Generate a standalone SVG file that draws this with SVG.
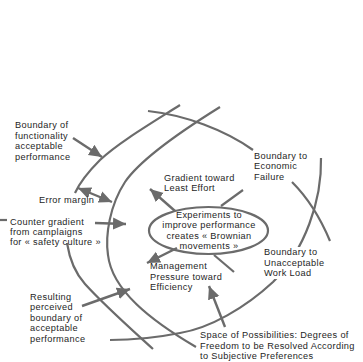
<svg xmlns="http://www.w3.org/2000/svg" width="363" height="362" viewBox="0 0 363 362">
<defs>
<style>
.c{fill:none;stroke:#6b6b6b;stroke-width:2.2;stroke-linecap:butt}
.a{fill:none;stroke:#6b6b6b;stroke-width:2.4}
.t{font-family:"Liberation Sans",Arial,sans-serif;font-size:9.2px;letter-spacing:0.35px;fill:#1e1e1e}
.m{text-anchor:middle}
.bg{fill:#fff}
</style>
<marker id="ah" markerUnits="userSpaceOnUse" markerWidth="16" markerHeight="14" refX="13" refY="6" orient="auto-start-reverse" viewBox="0 0 16 12">
<path d="M0,0 L13,6 L0,12 z" fill="#6b6b6b"/>
</marker>
</defs>
<rect width="363" height="362" fill="#fff"/>
<g id="boundaries">
<path class="c" d="M180,105 C150,124 118,143 100,160 C88,172 80,182 75,193"/>
<path class="c" d="M67,243 C70,262 76,274 85,284 C105,306 130,328 153,349"/>
<path class="c" d="M220,107 C175,135 140,160 125,182 C110,205 105,235 108,255 C112,290 150,320 196,347"/>
<path class="c" d="M148,111 C185,115 225,130 253,150"/>
<path class="c" d="M321,158 C322,200 305,250 273,282 C245,308 210,328 180,333 C150,339 130,340 110,340"/>
<path class="c" d="M292,182 Q315,205 330,241"/>
<path class="c" d="M221,206 L243,190"/>
<path class="c" d="M214,255 L234,272"/>
<path class="c" d="M0,220 L7,220"/>
</g>
<g id="connectors">
<path class="a" d="M73,138 L102,157" marker-end="url(#ah)"/>
<path class="a" d="M78,188 L112,202" marker-start="url(#ah)" marker-end="url(#ah)"/>
<path class="a" d="M95,223 L126,224" marker-end="url(#ah)"/>
<path class="a" d="M175,211 L150,189" marker-end="url(#ah)"/>
<path class="a" d="M177,248 L147,263" marker-end="url(#ah)"/>
<path class="a" d="M225,327 L209,286" marker-end="url(#ah)"/>
<path class="a" d="M82,306 L130,289" marker-end="url(#ah)"/>
</g>
<g id="ellipse-node">
<ellipse cx="208.5" cy="230.5" rx="59.5" ry="23.5" fill="none" stroke="#6b6b6b" stroke-width="2.2"/>
<text class="t m" x="209" y="218">Experiments to<tspan x="209" dy="10.4">improve performance</tspan><tspan x="209" dy="10.4">creates « Brownian</tspan><tspan x="209" dy="10.4">movements »</tspan></text>
</g>
<g id="label-functionality">
<text class="t" x="15" y="128">Boundary of<tspan x="15" dy="10.7">functionality</tspan><tspan x="15" dy="10.7">acceptable</tspan><tspan x="15" dy="10.7">performance</tspan></text>
</g>
<g id="label-error">
<text class="t" x="39" y="203">Error margin</text>
</g>
<g id="label-counter">
<text class="t" x="10" y="224.5">Counter gradient<tspan x="10" dy="10.4">from camplaigns</tspan><tspan x="10" dy="10.4">for « safety culture »</tspan></text>
</g>
<g id="label-least-effort">
<text class="t" x="164" y="180.5">Gradient toward<tspan x="164" dy="10.5">Least Effort</tspan></text>
</g>
<g id="label-economic">
<text class="t" x="254" y="158.5">Boundary to<tspan x="254" dy="10.5">Economic</tspan><tspan x="254" dy="10.5">Failure</tspan></text>
</g>
<g id="label-management">
<text class="t" x="150" y="269">Management<tspan x="150" dy="10.7">Pressure toward</tspan><tspan x="150" dy="10.6">Efficiency</tspan></text>
</g>
<g id="label-workload">
<rect class="bg" x="262" y="247" width="68" height="32"/>
<text class="t" x="264" y="255">Boundary to<tspan x="264" dy="10.5">Unacceptable</tspan><tspan x="264" dy="10.5">Work Load</tspan></text>
</g>
<g id="label-resulting">
<text class="t" x="30" y="300">Resulting<tspan x="30" dy="10.4">perceived</tspan><tspan x="30" dy="10.4">boundary of</tspan><tspan x="30" dy="10.4">acceptable</tspan><tspan x="30" dy="10.4">performance</tspan></text>
</g>
<g id="label-space">
<text class="t" x="200" y="338">Space of Possibilities: Degrees of<tspan x="200" dy="10.5">Freedom to be Resolved According</tspan><tspan x="200" dy="10.5">to Subjective Preferences</tspan></text>
</g>
</svg>
